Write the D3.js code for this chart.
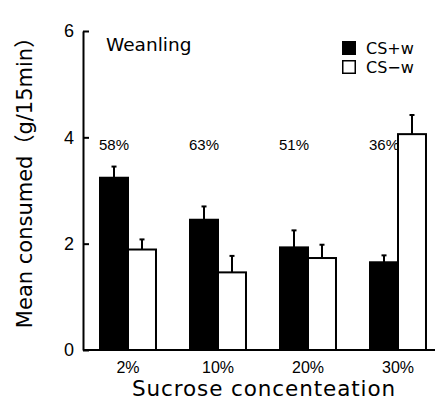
<!DOCTYPE html>
<html>
<head>
<meta charset="utf-8">
<script src="https://cdn.jsdelivr.net/npm/d3@7"></script>
<style>
  body { margin: 0; background: white; }
  svg { display: block; }
</style>
</head>
<body>
<div id="chart"></div>
<script>
const categories = ["2%", "10%", "20%", "30%"];
const seriesNames = ["CS+w", "CS\u2212w"];
const csPlus = [3.24, 2.45, 1.93, 1.65];
const csPlusErr = [0.21, 0.25, 0.32, 0.13];
const csMinus = [1.89, 1.46, 1.73, 4.06];
const csMinusErr = [0.19, 0.31, 0.25, 0.36];
const percentLabels = ["58%", "63%", "51%", "36%"];
const yTicks = [0, 2, 4, 6];

const width = 435, height = 401;
const margin = {top: 31, right: -8, bottom: 51, left: 83};

const svg = d3.select("#chart").append("svg")
    .attr("width", width)
    .attr("height", height);

const x = d3.scaleBand().domain(categories)
    .range([margin.left, width - margin.right])
    .paddingInner(0.378).paddingOuter(0.189);
const xInner = d3.scaleBand().domain(seriesNames).range([0, x.bandwidth()]);
const y = d3.scaleLinear().domain([0, 6]).range([height - margin.bottom, margin.top]);

const rows = categories.map((c, i) => ({
    cat: c,
    pct: percentLabels[i],
    bars: [
        {key: seriesNames[0], value: csPlus[i], err: csPlusErr[i]},
        {key: seriesNames[1], value: csMinus[i], err: csMinusErr[i]}
    ]
}));

const groups = svg.append("g").selectAll("g").data(rows).join("g")
    .attr("transform", d => `translate(${x(d.cat)},0)`);

// error bars (upper only)
groups.selectAll("line.err").data(d => d.bars).join("line")
    .attr("class", "err")
    .attr("x1", d => xInner(d.key) + xInner.bandwidth() / 2)
    .attr("x2", d => xInner(d.key) + xInner.bandwidth() / 2)
    .attr("y1", d => y(d.value))
    .attr("y2", d => y(d.value + d.err))
    .attr("stroke", "#000").attr("stroke-width", 2);

groups.selectAll("line.cap").data(d => d.bars).join("line")
    .attr("class", "cap")
    .attr("x1", d => xInner(d.key) + xInner.bandwidth() / 2 - 2.5)
    .attr("x2", d => xInner(d.key) + xInner.bandwidth() / 2 + 2.5)
    .attr("y1", d => y(d.value + d.err))
    .attr("y2", d => y(d.value + d.err))
    .attr("stroke", "#000").attr("stroke-width", 2);

groups.selectAll("rect").data(d => d.bars).join("rect")
    .attr("x", d => xInner(d.key))
    .attr("y", d => y(d.value))
    .attr("width", xInner.bandwidth())
    .attr("height", d => y(0) - y(d.value))
    .attr("fill", (d, i) => i === 0 ? "#000" : "#fff")
    .attr("stroke", "#000")
    .attr("stroke-width", 2);

groups.append("text")
    .attr("x", xInner(seriesNames[0]) + xInner.bandwidth() / 2)
    .attr("y", 150)
    .attr("text-anchor", "middle")
    .attr("font-family", "Liberation Sans, Arial, sans-serif")
    .attr("font-size", 15)
    .text(d => d.pct);

// axes
const yAxis = svg.append("g")
    .attr("transform", `translate(${margin.left},0)`)
    .call(d3.axisLeft(y).tickValues(yTicks).tickFormat(d3.format("d"))
        .tickSize(-6).tickSizeOuter(0).tickPadding(9));
yAxis.select(".domain").attr("stroke-width", 2);
yAxis.selectAll(".tick line").attr("stroke-width", 2);
yAxis.selectAll("text")
    .attr("font-family", "Liberation Sans, Arial, sans-serif")
    .attr("font-size", 18).attr("fill", "#000");

const xAxis = svg.append("g")
    .attr("transform", `translate(0,${y(0)})`)
    .call(d3.axisBottom(x).tickSize(0).tickSizeOuter(0).tickPadding(12));
xAxis.select(".domain").attr("stroke-width", 2).attr("d", `M${margin.left},0H${width}`);
xAxis.selectAll("text")
    .attr("font-family", "Liberation Sans, Arial, sans-serif")
    .attr("font-size", 16).attr("fill", "#000");

svg.append("text")
    .attr("x", 264).attr("y", 396)
    .attr("text-anchor", "middle")
    .attr("font-family", "DejaVu Sans, sans-serif")
    .attr("font-size", 21.5)
    .attr("letter-spacing", 0.9)
    .text("Sucrose concenteation");

svg.append("text")
    .attr("transform", `translate(32,${(25 + 330) / 2}) rotate(-90)`)
    .attr("text-anchor", "middle")
    .attr("font-family", "DejaVu Sans, 'Noto Sans CJK JP', sans-serif")
    .attr("font-size", 21)
    .text("Mean consumed\uFF08g/15min\uFF09");

svg.append("text")
    .attr("x", 106).attr("y", 51)
    .attr("font-family", "DejaVu Sans, sans-serif")
    .attr("font-size", 18.5)
    .text("Weanling");

// legend
const legend = svg.append("g").selectAll("g").data(seriesNames).join("g")
    .attr("transform", (d, i) => `translate(342,${41 + i * 19})`);
legend.append("rect")
    .attr("x", 0.75).attr("y", 0.75)
    .attr("width", 12.5).attr("height", 12.5)
    .attr("fill", (d, i) => i === 0 ? "#000" : "#fff")
    .attr("stroke", "#000").attr("stroke-width", 1.5);
legend.append("text")
    .attr("x", 24).attr("y", 12.5)
    .attr("font-family", "DejaVu Sans, sans-serif")
    .attr("font-size", 16)
    .text(d => d);
</script>
</body>
</html>
